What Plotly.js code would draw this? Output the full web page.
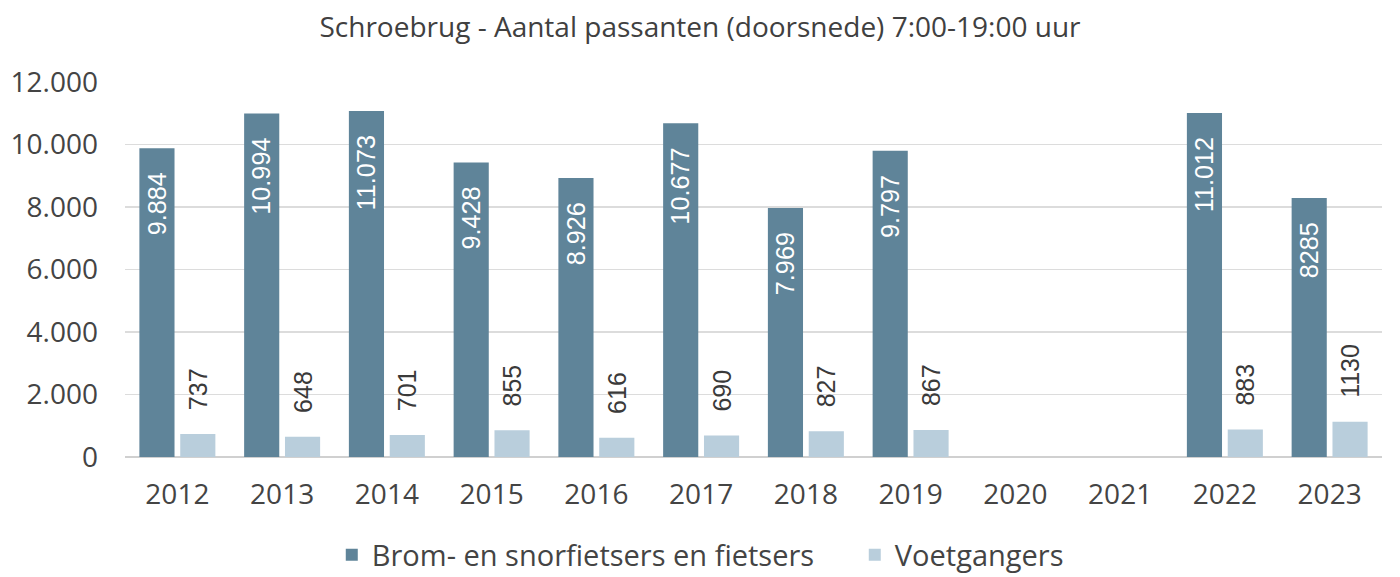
<!DOCTYPE html>
<html><head><meta charset="utf-8">
<script src="https://cdn.plot.ly/plotly-3.0.1.min.js"></script>
<style>html,body{margin:0;padding:0;background:#fff}#chart{width:1400px;height:577px}</style>
</head><body><div id="chart"></div>
<script>
const years = ['2012','2013','2014','2015','2016','2017','2018','2019','2020','2021','2022','2023'];
const fietsers = [9884, 10994, 11073, 9428, 8926, 10677, 7969, 9797, null, null, 11012, 8285];
const fietsersLabels = ['9.884','10.994','11.073','9.428','8.926','10.677','7.969','9.797','','','11.012','8285'];
const voetgangers = [737, 648, 701, 855, 616, 690, 827, 867, null, null, 883, 1130];
const voetgangersLabels = ['737','648','701','855','616','690','827','867','','','883','1130'];
const tickVals = [0, 2000, 4000, 6000, 8000, 10000, 12000];

const NB = '\u00a0';
const data = [
  {type:'bar', name:'Brom- en snorfietsers en fietsers', x:years, y:fietsers,
   text:fietsersLabels.map(s => s ? s + NB + NB + NB : s), textposition:'inside', insidetextanchor:'end', textangle:-90,
   textfont:{family:'Liberation Sans, Arial, sans-serif', size:26, color:'#ffffff'},
   marker:{color:'#5f8499'}, cliponaxis:false, hoverinfo:'none'},
  {type:'bar', name:'Voetgangers', x:years, y:voetgangers,
   text:voetgangersLabels.map(s => s ? NB + NB + NB + s : s), textposition:'outside', textangle:-90,
   textfont:{family:'Liberation Sans, Arial, sans-serif', size:25, color:'#3a3a3a'},
   marker:{color:'#b9cedc'}, cliponaxis:false, hoverinfo:'none'}
];

const layout = {
  width:1400, height:577,
  margin:{l:125, r:18, t:82, b:120, autoexpand:false},
  paper_bgcolor:'#ffffff', plot_bgcolor:'#ffffff',
  separators:',.',
  font:{family:'Open Sans, Noto Sans, sans-serif', color:'#444444'},
  uniformtext:{mode:'show', minsize:25},
  title:{text:'Schroebrug - Aantal passanten (doorsnede) 7:00-19:00 uur',
         font:{family:'Open Sans, Noto Sans, sans-serif', size:28, color:'#404040'},
         x:0.5, xanchor:'center', y:0.952, yanchor:'middle'},
  barmode:'group', bargap:0.22, bargroupgap:0.14,
  showlegend:true,
  legend:{orientation:'h', x:0.1645, xanchor:'left', y:-0.261, yanchor:'middle',
          font:{size:29, color:'#444444'}, itemwidth:30, tracegroupgap:0,
          entrywidth:478, traceorder:'normal'},
  xaxis:{type:'category', tickfont:{size:28, color:'#444444'}, ticks:'',
         ticklabelstandoff:18, showgrid:false, showline:false, zeroline:false},
  yaxis:{range:[0,12000], tickvals:tickVals, tickformat:',d',
         tickfont:{size:28, color:'#444444'}, ticks:'', ticklabelstandoff:26,
         showgrid:true, gridcolor:'#dcdcdc', gridwidth:1.5,
         zeroline:true, zerolinecolor:'#d0d0d0', zerolinewidth:2, showline:false}
};

Plotly.newPlot('chart', data, layout, {displayModeBar:false, staticPlot:true});
</script></body></html>
